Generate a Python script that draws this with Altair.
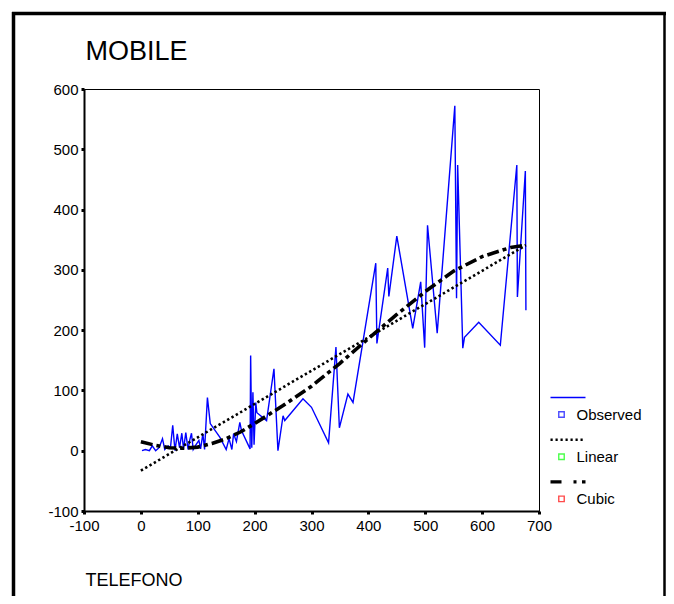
import altair as alt
import pandas as pd

# Observed series (TELEFONO -> MOBILE)
telefono = [2, 8, 15, 20, 26, 32, 38, 42, 48, 52, 56, 60, 64, 68, 72, 75, 79, 83, 86, 89,
            92, 97, 102, 105, 109, 112, 117, 122, 139, 150, 155, 160, 163, 168, 174, 177, 192, 193, 195, 197,
            199, 202, 204, 221, 234, 241, 250, 253, 285, 300, 330, 343, 349, 364, 373, 413, 415, 434, 436, 450,
            478, 492, 499, 504, 521, 552, 555, 557, 566, 569, 594, 632, 661, 662, 676, 677]
mobile = [0, 2, 0, 8, 0, 5, 20, 2, 8, 5, 42, 0, 28, 5, 29, 3, 30, 2, 18, 29,
          2, 10, 17, 3, 28, 2, 88, 45, 22, 2, 20, 2, 28, 15, 47, 33, 3, 158, 5, 97,
          10, 80, 63, 50, 136, 0, 58, 50, 86, 72, 13, 172, 38, 94, 80, 311, 178, 303, 256, 356,
          203, 280, 171, 374, 195, 572, 253, 474, 170, 188, 213, 175, 474, 255, 464, 233]

# Linear fit
lin_x = [0, 677]
lin_y = [-33, 341]

# Cubic fit
cub_x = [0, 25, 50, 75, 100, 125, 150, 175, 200, 250, 300, 350, 400, 450, 500, 550, 600, 650, 677]
cub_y = [15, 9, 5, 4, 6, 12, 20, 31, 45, 75, 107, 145, 186, 226, 264, 298, 322, 337, 341]

x_ticks = [-100, 0, 100, 200, 300, 400, 500, 600, 700]
y_ticks = [-100, 0, 100, 200, 300, 400, 500, 600]

legend_labels = ["Observed", "Linear", "Cubic"]
legend_colors = ["#0000FF", "#00FF00", "#FF0000"]

FONT = "Liberation Sans, Arial"

obs = pd.DataFrame({"TELEFONO": telefono, "MOBILE": mobile})
lin = pd.DataFrame({"TELEFONO": lin_x, "MOBILE": lin_y})
cub = pd.DataFrame({"TELEFONO": cub_x, "MOBILE": cub_y})

xscale = alt.Scale(domain=[-100, 700], nice=False, zero=False)
yscale = alt.Scale(domain=[-100, 600], nice=False, zero=False)

xaxis = alt.Axis(values=x_ticks, title="TELEFONO", titleX=1, titleY=69,
                 titleAlign="left", titleBaseline="middle", titleFont=FONT,
                 titleFontSize=18, titleFontWeight="normal", labelFlush=False,
                 labelPadding=4, labelExpr="datum.value + ''")
yaxis = alt.Axis(values=y_ticks, title="MOBILE", titleX=1, titleY=-38, titleAngle=0,
                 titleAlign="left", titleBaseline="middle", titleFont=FONT,
                 titleFontSize=27, titleFontWeight="normal", labelPadding=3,
                 labelExpr="datum.value + ''")

observed = alt.Chart(obs).mark_line(color="#0000FF", strokeWidth=1.4).encode(
    x=alt.X("TELEFONO:Q", scale=xscale, axis=xaxis),
    y=alt.Y("MOBILE:Q", scale=yscale, axis=yaxis),
)
linear = alt.Chart(lin).mark_line(color="black", strokeWidth=2.6, strokeDash=[2.4, 2.6]).encode(
    x="TELEFONO:Q", y="MOBILE:Q"
)
cubic = alt.Chart(cub).mark_line(color="black", strokeWidth=3.6, strokeDash=[12, 4, 4, 4]).encode(
    x="TELEFONO:Q", y="MOBILE:Q"
)

one = pd.DataFrame({"k": [0]})

# Legend (drawn by hand, SPSS style)
def legend_entry(i, dash, width, color):
    y0 = 308.5 + i * 42.2
    line = alt.Chart(one).mark_rule(color=color, strokeWidth=width, strokeDash=dash).encode(
        x=alt.value(466.5), x2=alt.value(501.5), y=alt.value(y0)
    )
    sq = alt.Chart(one).mark_point(shape="square", filled=False, size=30, strokeWidth=1.4,
                                   color=legend_colors[i]).encode(
        x=alt.value(477.5), y=alt.value(y0 + 17)
    )
    txt = alt.Chart(one).mark_text(align="left", baseline="middle", font=FONT, fontSize=15,
                                   color="black", text=legend_labels[i]).encode(
        x=alt.value(492.5), y=alt.value(y0 + 17.5)
    )
    return [line, sq, txt]

leg = []
leg += legend_entry(0, [1, 0], 1.5, "#0000FF")
leg += legend_entry(1, [2.2, 2.8], 2.4, "black")
leg += legend_entry(2, [11, 12, 3, 5.5, 3.5, 100], 3.2, "black")

# Outer frame
frame_left = alt.Chart(one).mark_rule(color="black", strokeWidth=3.5).encode(
    x=alt.value(-70.5), y=alt.value(-77), y2=alt.value(520))
frame_top = alt.Chart(one).mark_rule(color="black", strokeWidth=3.5).encode(
    x=alt.value(-72), x2=alt.value(582), y=alt.value(-75.5))
frame_right = alt.Chart(one).mark_rule(color="black", strokeWidth=2.5).encode(
    x=alt.value(580.5), y=alt.value(-77), y2=alt.value(520))

chart = alt.layer(observed, linear, cubic, *leg, frame_left, frame_top, frame_right).properties(
    width=455, height=422,
    autosize=alt.AutoSizeParams(type="none"),
    padding={"left": 76, "top": 81, "right": 127, "bottom": 85},
    background="white",
).configure_view(
    stroke="black", strokeWidth=1
).configure_axis(
    grid=False, domainColor="black", domainWidth=2, tickColor="black",
    tickSize=3, tickWidth=3, labelFont=FONT, labelFontSize=15, labelColor="black",
    titleColor="black"
)

chart.save("out.html", embed_options={"renderer": "svg", "actions": False})
